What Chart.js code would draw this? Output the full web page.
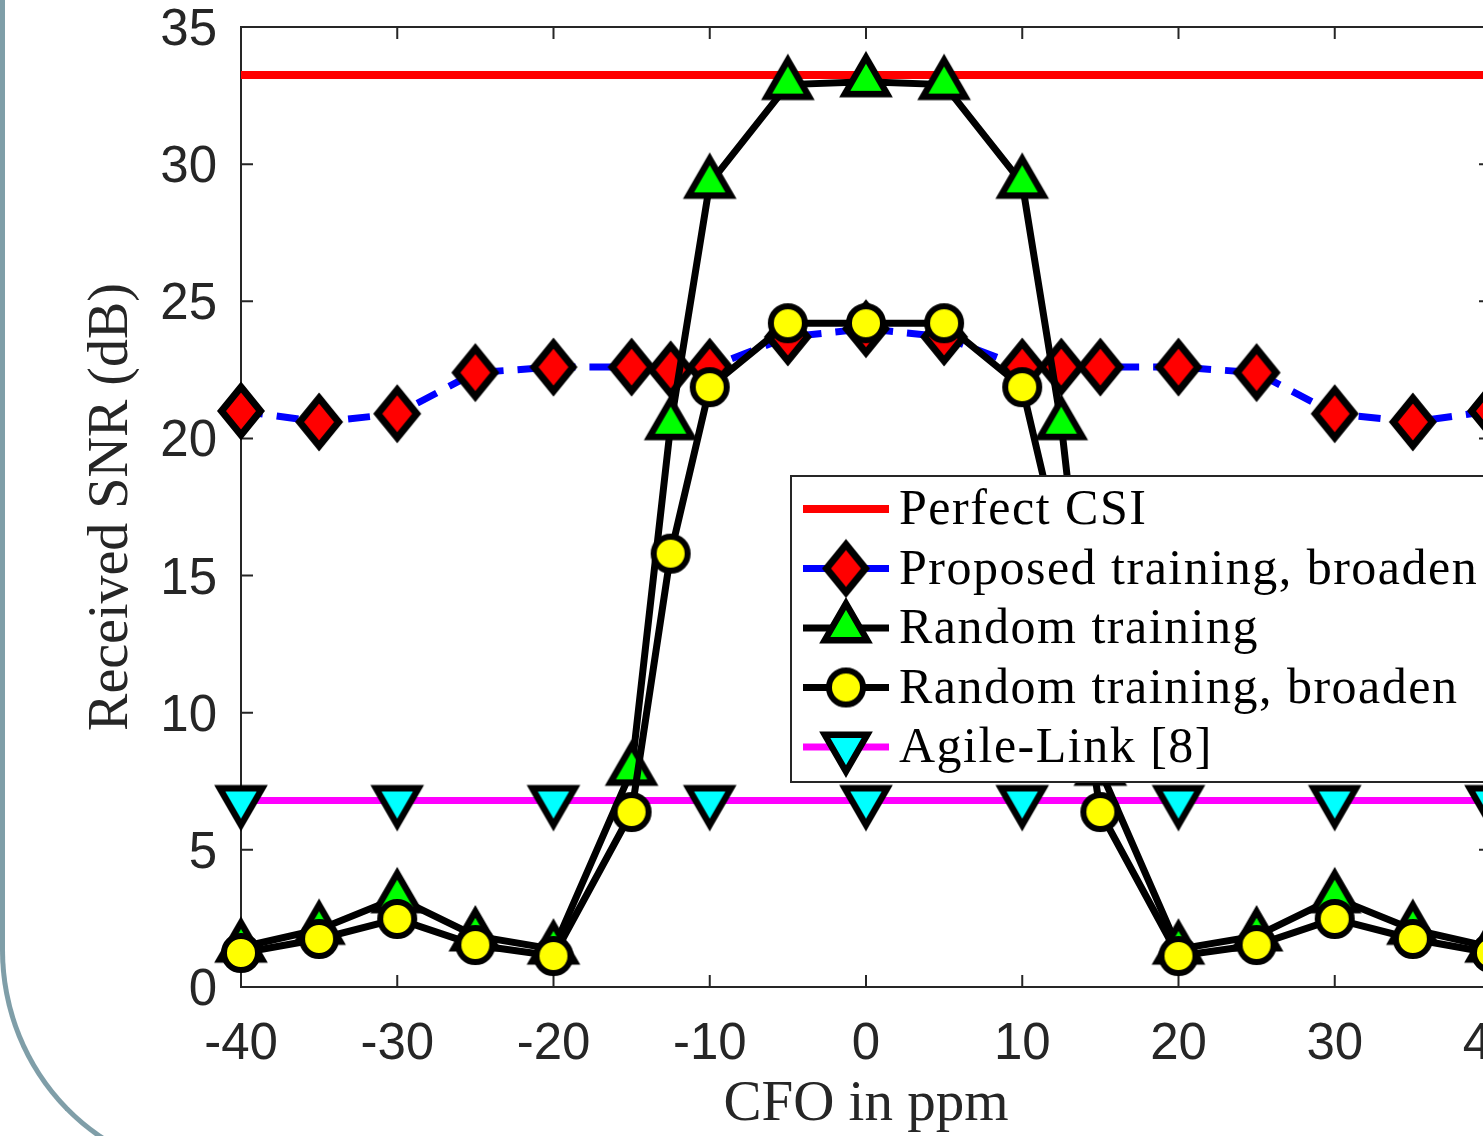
<!DOCTYPE html>
<html>
<head>
<meta charset="utf-8">
<script src="https://cdn.jsdelivr.net/npm/chart.js@4.4.1/dist/chart.umd.min.js"></script>
<style>
  html, body { margin: 0; padding: 0; background: #fff; overflow: hidden; width: 1483px; height: 1136px; }
  #frame { position: absolute; left: 0; top: -20px; width: 1700px; height: 1196px; box-sizing: border-box;
    border-left: 5px solid #7f9ea8; border-bottom: 5px solid #7f9ea8; border-bottom-left-radius: 220px 226px; }
  #plot { position: absolute; left: 0; top: 0; }
</style>
</head>
<body>
<div id="frame"></div>
<canvas id="plot" width="1600" height="1136"></canvas>
<script>
/* Received SNR vs CFO */
const cfo = [-40, -35, -30, -25, -20, -15, -12.5, -10, -5, 0, 5, 10, 12.5, 15, 20, 25, 30, 35, 40];
const cfoCoarse = [-40, -30, -20, -10, 0, 10, 20, 30, 40];
const perfectCsi = [33.25, 33.25, 33.25, 33.25, 33.25, 33.25, 33.25, 33.25, 33.25];
const proposedBroaden = [21.0, 20.6, 20.9, 22.4, 22.6, 22.6, 22.5, 22.6, 23.7, 24.0, 23.7, 22.6, 22.6, 22.6, 22.6, 22.4, 20.9, 20.6, 21.0];
const randomTraining = [1.45, 2.1, 3.25, 1.86, 1.38, 7.9, 20.5, 29.3, 32.9, 33.0, 32.9, 29.3, 20.5, 7.9, 1.38, 1.86, 3.25, 2.1, 1.45];
const randomBroaden = [1.24, 1.75, 2.48, 1.53, 1.13, 6.38, 15.8, 21.87, 24.2, 24.2, 24.2, 21.87, 15.8, 6.38, 1.13, 1.53, 2.48, 1.75, 1.24];
const agileLink = [6.8, 6.8, 6.8, 6.8, 6.8, 6.8, 6.8, 6.8, 6.8];
const xTicks = [-40, -30, -20, -10, 0, 10, 20, 30, 40];
const yTicks = [0, 5, 10, 15, 20, 25, 30, 35];

const AXIS = '#262626';
const pts = (xs, ys) => xs.map((x, i) => ({ x, y: ys[i] }));

// marker bitmaps, MATLAB-ish shapes
function marker(kind, fill) {
  const c = document.createElement('canvas');
  c.width = 72; c.height = 72;
  const g = c.getContext('2d');
  const m = 36;
  g.strokeStyle = '#000'; g.fillStyle = fill; g.lineJoin = 'miter';
  g.beginPath();
  if (kind === 'diamond') {
    g.lineWidth = 7;
    g.moveTo(m, m - 24); g.lineTo(m + 19.5, m); g.lineTo(m, m + 24); g.lineTo(m - 19.5, m);
  } else if (kind === 'circle') {
    g.lineWidth = 6;
    g.arc(m, m, 17, 0, Math.PI * 2);
  } else {
    g.lineWidth = 6.5;
    const r = 24.5, d = kind === 'up' ? 1 : -1;
    g.moveTo(m, m - d * r); g.lineTo(m + r * 0.866, m + d * r / 2); g.lineTo(m - r * 0.866, m + d * r / 2);
  }
  g.closePath(); g.fill(); g.stroke();
  return c;
}
const mkDiamond = marker('diamond', '#ff0000');
const mkUp = marker('up', '#00ff00');
const mkCircle = marker('circle', '#ffff00');
const mkDown = marker('down', '#00ffff');

// axes box + inward ticks (drawn under the data)
const framePlugin = {
  id: 'frame',
  beforeDatasetsDraw(chart) {
    const { ctx, chartArea: a, scales: { x, y } } = chart;
    ctx.save();
    ctx.strokeStyle = AXIS; ctx.lineWidth = 2;
    ctx.strokeRect(a.left, a.top, a.right - a.left, a.bottom - a.top);
    ctx.beginPath();
    xTicks.forEach(v => {
      const px = x.getPixelForValue(v);
      ctx.moveTo(px, a.bottom); ctx.lineTo(px, a.bottom - 12);
      ctx.moveTo(px, a.top); ctx.lineTo(px, a.top + 12);
    });
    yTicks.forEach(v => {
      const py = y.getPixelForValue(v);
      ctx.moveTo(a.left, py); ctx.lineTo(a.left + 12, py);
      ctx.moveTo(a.right, py); ctx.lineTo(a.right - 12, py);
    });
    ctx.stroke();
    ctx.restore();
  }
};

// boxed legend inside the axes, on top of the lines
const legendPlugin = {
  id: 'boxLegend',
  afterDraw(chart) {
    const ctx = chart.ctx;
    const left = 791, top = 476, w = 900, h = 306;
    ctx.save();
    ctx.fillStyle = '#fff'; ctx.fillRect(left, top, w, h);
    ctx.strokeStyle = AXIS; ctx.lineWidth = 2; ctx.strokeRect(left, top, w, h);
    ctx.font = '50px "Liberation Serif"';
    ctx.letterSpacing = '1.5px';
    ctx.textBaseline = 'middle';
    chart.data.datasets.forEach((ds, i) => {
      const yy = top + 33 + i * 59.5;
      ctx.strokeStyle = ds.borderColor; ctx.lineWidth = ds.borderWidth;
      ctx.beginPath(); ctx.moveTo(803, yy); ctx.lineTo(889, yy); ctx.stroke();
      if (ds.pointStyle) ctx.drawImage(ds.pointStyle, 846 - 36, yy - 36);
      ctx.fillStyle = '#000';
      ctx.fillText(ds.label, 899, yy + 2);
    });
    ctx.restore();
  }
};

const common = { showLine: true, tension: 0, clip: false, pointRadius: 20, pointHoverRadius: 20 };

new Chart(document.getElementById('plot').getContext('2d'), {
  type: 'scatter',
  data: {
    datasets: [
      { ...common, label: 'Perfect CSI', data: pts(cfoCoarse, perfectCsi), borderColor: '#ff0000',
        borderWidth: 8, pointRadius: 0, pointStyle: false, order: 3 },
      { ...common, label: 'Proposed training, broaden', data: pts(cfo, proposedBroaden), borderColor: '#0000ff',
        borderWidth: 7, borderDash: [22, 14], pointStyle: mkDiamond, order: 2 },
      { ...common, label: 'Random training', data: pts(cfo, randomTraining), borderColor: '#000000',
        borderWidth: 7, pointStyle: mkUp, order: 1 },
      { ...common, label: 'Random training, broaden', data: pts(cfo, randomBroaden), borderColor: '#000000',
        borderWidth: 7, pointStyle: mkCircle, order: 0 },
      { ...common, label: 'Agile-Link [8]', data: pts(cfoCoarse, agileLink), borderColor: '#ff00ff',
        borderWidth: 7, pointStyle: mkDown, order: 4 }
    ]
  },
  options: {
    responsive: false,
    devicePixelRatio: 1,
    animation: false,
    events: [],
    layout: { padding: { left: 0, top: 27, right: 109, bottom: 0 } },
    plugins: { legend: { display: false }, tooltip: { enabled: false } },
    scales: {
      x: {
        type: 'linear', min: -40, max: 40,
        afterFit: s => { s.height = 149; s.paddingLeft = 0; s.paddingRight = 0; },
        afterBuildTicks: s => { s.ticks = xTicks.map(v => ({ value: v })); },
        grid: { display: false, drawTicks: false }, border: { display: false },
        ticks: { color: AXIS, padding: 32, maxRotation: 0, autoSkip: false,
          font: { family: '"Liberation Sans", Arial, sans-serif', size: 51, lineHeight: 1 },
          callback: v => String(v) },
        title: { display: true, text: 'CFO in ppm', color: AXIS,
          font: { family: '"Liberation Serif", serif', size: 57, lineHeight: 1 }, padding: { top: 0, bottom: 2 } }
      },
      y: {
        type: 'linear', min: 0, max: 35,
        afterFit: s => { s.width = 241; s.paddingTop = 0; s.paddingBottom = 0; },
        afterBuildTicks: s => { s.ticks = yTicks.map(v => ({ value: v })); },
        grid: { display: false, drawTicks: false }, border: { display: false },
        ticks: { color: AXIS, padding: 24, autoSkip: false, labelOffset: 4,
          font: { family: '"Liberation Sans", Arial, sans-serif', size: 51, lineHeight: 1 },
          callback: v => String(v) },
        title: { display: true, text: 'Received SNR (dB)', color: AXIS,
          font: { family: '"Liberation Serif", serif', size: 56, lineHeight: 1 }, padding: { top: 84, bottom: 0 } }
      }
    }
  },
  plugins: [framePlugin, legendPlugin]
});
</script>
</body>
</html>
